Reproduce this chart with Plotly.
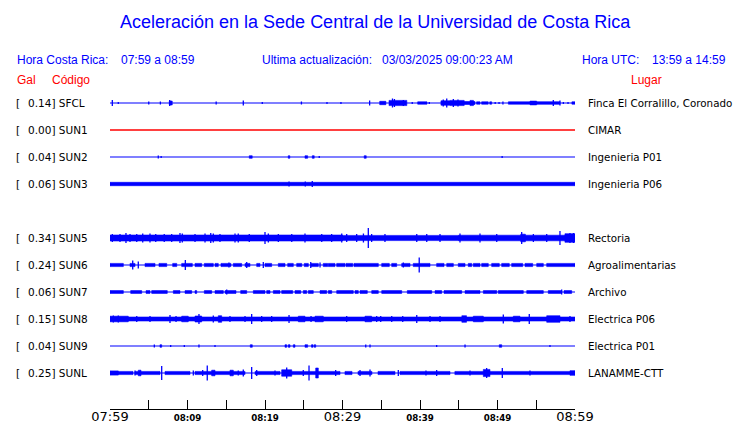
import plotly.graph_objects as go

# ---------------- data ----------------
STATIONS = ["SFCL", "SUN1", "SUN2", "SUN3", "SUN4", "SUN5", "SUN6", "SUN7", "SUN8", "SUN9", "SUNL"]
PEAK_GAL = [0.14, 0.00, 0.04, 0.06, None, 0.34, 0.24, 0.06, 0.15, 0.04, 0.25]
PLACES = ["Finca El Corralillo, Coronado", "CIMAR", "Ingenieria P01", "Ingenieria P06", None,
          "Rectoria", "Agroalimentarias", "Archivo", "Electrica P06", "Electrica P01", "LANAMME-CTT"]
HAS_SIGNAL = [True, False, True, True, None, True, True, True, True, True, True]

TICK_MINUTES = [0, 5, 10, 15, 20, 25, 30, 35, 40, 45, 50, 55, 60]
TICK_LABELS = ["07:59", "", "08:09", "", "08:19", "", "08:29", "", "08:39", "", "08:49", "", "08:59"]
MAJOR_LABELS = ["07:59", "08:29", "08:59"]

# Trace envelopes: (start min, end min, half-height) and spikes (min, half-height)
SFCL_BANDS = [(7.65, 8.03, 2.0), (34.8, 35.6, 1.7), (36.0, 38.3, 2.6), (39.7, 40.9, 1.2),
              (42.7, 43.9, 2.2), (43.9, 45.7, 2.6), (45.7, 47.1, 1.5), (46.45, 46.9, 2.6),
              (47.3, 47.75, 1.2), (47.95, 48.8, 1.2), (49.0, 49.25, 1.2),
              (51.4, 54.2, 1.2), (54.2, 55.05, 1.9), (55.05, 58.05, 1.3), (59.6, 60.0, 1.2)]
SFCL_SPIKES = [(0.3, 3), (1.07, 1), (5.0, 1.5), (6.5, 1.5), (7.7, 3), (13.7, 1.5), (17.2, 2.5),
               (19.65, 1), (24.7, 1.5), (28.0, 1), (29.8, 1), (33.5, 2.5), (36.45, 4.5), (36.7, 4),
               (37.85, 3), (39.0, 1), (41.2, 1), (43.0, 3.5), (43.45, 4.5), (44.3, 4), (44.9, 3.5),
               (49.7, 1), (50.2, 1), (50.7, 1.5), (57.2, 3), (58.06, 2.5), (58.5, 1), (59.1, 1)]

SUN1_BANDS = []
SUN1_SPIKES = []

SUN2_BANDS = [(17.97, 18.35, 1.3), (23.0, 23.2, 1.3), (25.16, 25.5, 1.3), (26.1, 26.35, 1.3),
              (32.8, 33.06, 1.3)]
SUN2_SPIKES = [(6.23, 1.5), (6.6, 1), (27.0, 1), (50.6, 1)]

SUN3_BANDS = [(0, 60, 1.7)]
SUN3_SPIKES = [(23.1, 2.5), (25.2, 2.5), (26.1, 3)]

SUN4_BANDS = []
SUN4_SPIKES = []

SUN5_BANDS = [(0, 30, 3.0), (30, 45, 2.6), (45, 58.7, 2.8), (58.7, 60, 4.3), (53.0, 53.6, 3.8)]
SUN5_SPIKES = [(0.3, 4), (1.29, 4), (2.06, 5), (2.58, 4), (3.45, 4), (4.22, 4.5), (5.16, 4.5),
               (5.9, 4), (7.0, 4), (7.96, 4), (9.03, 5), (9.33, 4.5), (10.97, 4), (12.26, 4.5),
               (13.0, 5), (13.33, 4.5), (14.19, 4), (16.13, 4.5), (16.55, 4.5), (17.97, 4),
               (20.0, 6), (20.43, 4.5), (21.72, 4), (23.45, 4), (25.16, 4.5), (27.32, 4), (28.6, 4),
               (29.9, 4.5), (30.54, 4), (31.83, 4), (32.7, 4.5), (33.33, 10), (33.76, 4), (35.48, 4),
               (39.58, 4), (40.87, 4), (42.58, 4), (45.16, 4.5), (47.74, 4.5), (49.9, 4), (53.12, 6),
               (54.63, 4), (56.35, 4), (58.06, 7), (59.35, 5), (59.8, 5)]

SUN6_BANDS = [(0, 1.72, 1.6), (2.58, 3.23, 1.6), (4.52, 5.81, 1.6), (6.32, 7.32, 1.6),
              (8.09, 8.61, 1.6), (9.25, 10.62, 1.6), (10.97, 11.83, 1.6), (12.17, 13.33, 1.6),
              (13.55, 13.97, 1.6), (14.32, 15.61, 1.6), (15.91, 16.99, 1.6), (17.42, 18.06, 1.6),
              (18.93, 19.35, 1.6), (20.0, 20.86, 1.6), (21.72, 22.58, 1.6), (22.93, 23.65, 1.6),
              (24.09, 24.74, 1.6), (25.07, 25.59, 1.6), (25.94, 26.88, 1.6), (27.52, 28.09, 1.6),
              (28.17, 29.03, 1.6), (29.25, 30.32, 1.6), (30.45, 31.32, 1.6), (31.48, 34.62, 1.6),
              (35.06, 36.04, 1.6), (36.35, 36.99, 1.6), (37.64, 38.71, 1.6), (39.13, 41.29, 1.6),
              (42.15, 43.1, 1.6), (43.45, 44.3, 1.6), (44.94, 45.81, 1.6), (46.23, 46.67, 1.6),
              (46.88, 47.74, 1.6), (47.96, 48.81, 1.6), (49.25, 50.23, 1.6), (50.54, 51.52, 1.6),
              (51.83, 53.25, 1.6), (53.55, 54.54, 1.6), (55.06, 55.91, 1.6), (56.35, 60.0, 1.6)]
SUN6_SPIKES = [(2.93, 4.5), (3.65, 3.5), (9.72, 5), (15.35, 2.5), (17.64, 3), (19.78, 3),
               (25.9, 3), (27.1, 2.5), (37.85, 2.5), (39.9, 7.5)]

SUN7_BANDS = [(0, 1.72, 1.4), (2.67, 4.09, 1.4), (4.65, 5.16, 1.4), (5.38, 7.39, 1.4),
              (8.17, 9.03, 1.4), (9.68, 10.54, 1.4), (10.97, 11.19, 1.4), (12.17, 13.12, 1.4),
              (13.55, 14.62, 1.4), (14.84, 16.26, 1.4), (16.86, 17.64, 1.4), (18.49, 20.0, 1.4),
              (20.22, 20.65, 1.4), (21.07, 21.94, 1.4), (22.15, 23.57, 1.4), (23.87, 24.61, 1.4),
              (24.94, 25.38, 1.4), (25.59, 26.23, 1.4), (27.1, 27.96, 1.4), (28.17, 28.61, 1.4),
              (29.25, 31.39, 1.4), (31.61, 32.04, 1.4), (32.26, 33.2, 1.4), (33.77, 34.62, 1.4),
              (35.06, 37.64, 1.4), (38.36, 41.51, 1.4), (41.94, 42.8, 1.4), (43.1, 45.38, 1.4),
              (45.81, 47.74, 1.4), (48.17, 49.9, 1.4), (50.1, 53.33, 1.4), (53.77, 55.91, 1.4),
              (56.55, 58.28, 1.4), (58.58, 59.57, 1.4)]
SUN7_SPIKES = [(15.06, 2.5), (58.28, 2.5)]

SUN8_BANDS = [(0, 60, 2.0), (0, 2.36, 2.8), (9.25, 10.1, 2.8), (10.97, 11.83, 3.0),
              (13.97, 14.41, 3.3), (24.3, 25.16, 2.8), (26.45, 27.52, 2.8), (32.9, 33.76, 2.8),
              (45.4, 46.0, 3.3), (46.88, 48.17, 2.8), (52.04, 52.9, 2.8), (56.35, 58.06, 3.3)]
SUN8_SPIKES = [(0.43, 3.5), (1.07, 3.5), (3.45, 3), (5.16, 3), (7.74, 4), (8.52, 3), (11.48, 5),
               (13.33, 3.5), (15.48, 3), (17.42, 3), (18.28, 5), (19.57, 3), (20.86, 3), (23.1, 4),
               (25.94, 3), (30.54, 3), (34.41, 3), (34.93, 3), (36.35, 3), (37.77, 3), (39.58, 4),
               (41.29, 3), (42.58, 3), (50.75, 4.5), (54.1, 5), (59.35, 3)]

SUN9_BANDS = [(6.45, 6.67, 1.3), (18.1, 18.36, 1.3), (22.58, 22.8, 1.3), (23.0, 23.23, 1.3),
              (23.65, 23.87, 1.3), (25.16, 25.5, 1.3), (26.0, 26.2, 1.3), (26.35, 26.54, 1.3),
              (50.23, 50.54, 1.3)]
SUN9_SPIKES = [(5.72, 1.5), (7.83, 1), (9.59, 1), (11.48, 1.5), (13.55, 1), (33.0, 1.5),
               (33.55, 1.5), (42.15, 1), (45.81, 1.5), (56.77, 1)]

SUNL_BANDS = [(0, 2.97, 1.6), (0, 1.07, 2.1), (3.23, 6.45, 1.6), (7.1, 10.32, 1.6),
              (10.97, 17.42, 1.6), (18.71, 21.94, 1.6), (22.32, 29.68, 1.6), (30.32, 31.23, 1.6),
              (32.0, 33.8, 1.6), (34.58, 36.77, 1.6), (37.42, 43.87, 1.6), (44.5, 60.0, 1.6),
              (3.65, 4.0, 2.8), (13.12, 13.55, 2.8), (15.48, 15.91, 2.8), (22.15, 23.45, 3.2),
              (26.54, 26.88, 5.0), (48.17, 49.03, 3.6), (59.35, 60.0, 2.3)]
SUNL_SPIKES = [(3.23, 2.5), (6.67, 7), (10.75, 2.5), (11.96, 3), (12.55, 7.5), (16.55, 2.5),
               (17.2, 3.5), (18.28, 6), (18.93, 3), (21.29, 2.5), (22.8, 5.5), (24.94, 3),
               (25.68, 7.5), (29.12, 3), (32.26, 3), (33.55, 3.5), (37.2, 3), (40.77, 2.5),
               (42.15, 3), (46.45, 2.5), (48.6, 5), (50.62, 5), (54.19, 2.5)]

BANDS = [SFCL_BANDS, SUN1_BANDS, SUN2_BANDS, SUN3_BANDS, SUN4_BANDS, SUN5_BANDS,
         SUN6_BANDS, SUN7_BANDS, SUN8_BANDS, SUN9_BANDS, SUNL_BANDS]
SPIKES = [SFCL_SPIKES, SUN1_SPIKES, SUN2_SPIKES, SUN3_SPIKES, SUN4_SPIKES, SUN5_SPIKES,
          SUN6_SPIKES, SUN7_SPIKES, SUN8_SPIKES, SUN9_SPIKES, SUNL_SPIKES]

# ---------------- layout constants ----------------
W, H = 740, 423
L, R, T, B = 110, 165, 0, 14
PW, PH = W - L - R, H - T - B
ROW0, ROW_STEP = 103, 27
BLUE, RED = "#0000FF", "#FF0000"
TXT_FONT = "Liberation Sans, Arial, sans-serif"
LBL_FONT = "DejaVu Sans, sans-serif"


def px_x(px):
    return (px - L) / PW


def px_y(py):
    return 1 - (py - T) / PH


fig = go.Figure()

for i, code in enumerate(STATIONS):
    if HAS_SIGNAL[i] is None:
        continue
    c = ROW0 + ROW_STEP * i
    color = BLUE if HAS_SIGNAL[i] else RED
    # baseline
    fig.add_trace(go.Scatter(x=[0, 60], y=[c, c], mode="lines",
                             line=dict(color=color, width=1.4 if not HAS_SIGNAL[i] else 1.2),
                             hoverinfo="skip", showlegend=False))
    # envelope blocks
    bx, by = [], []
    for t0, t1, a in BANDS[i]:
        bx += [t0, t1, t1, t0, t0, None]
        by += [c - a, c - a, c + a, c + a, c - a, None]
    if bx:
        fig.add_trace(go.Scatter(x=bx, y=by, mode="lines", fill="toself", fillcolor=color,
                                 line=dict(color=color, width=0.6),
                                 hoverinfo="skip", showlegend=False))
    # spikes
    sx, sy = [], []
    for t, a in SPIKES[i]:
        sx += [t, t, None]
        sy += [c - a, c + a, None]
    if sx:
        fig.add_trace(go.Scatter(x=sx, y=sy, mode="lines", line=dict(color=color, width=1.3),
                                 hoverinfo="skip", showlegend=False))

annotations = []


def txt(text, px, py, size, color, family, anchor="left"):
    annotations.append(dict(text=text, x=px_x(px), y=px_y(py), xref="paper", yref="paper",
                            xanchor=anchor, yanchor="middle", showarrow=False,
                            font=dict(size=size, color=color, family=family)))


txt("Aceleración en la Sede Central de la Universidad de Costa Rica", 375, 22, 18, BLUE, TXT_FONT, "center")
txt("Hora Costa Rica:", 15, 60, 12, BLUE, TXT_FONT)
txt("07:59 a 08:59", 119, 60, 12, BLUE, TXT_FONT)
txt("Ultima actualización:", 260, 60, 12, BLUE, TXT_FONT)
txt("03/03/2025 09:00:23 AM", 380, 60, 12, BLUE, TXT_FONT)
txt("Hora UTC:", 580, 60, 12, BLUE, TXT_FONT)
txt("13:59 a 14:59", 650, 60, 12, BLUE, TXT_FONT)
txt("Gal", 15, 80, 12, RED, TXT_FONT)
txt("Código", 50, 80, 12, RED, TXT_FONT)
txt("Lugar", 629, 80, 12, RED, TXT_FONT)

for i, code in enumerate(STATIONS):
    if PEAK_GAL[i] is None:
        continue
    c = ROW0 + ROW_STEP * i
    txt("[", 14, c, 10.5, "#000000", LBL_FONT)
    txt(f"{PEAK_GAL[i]:.2f}] {code}", 26, c, 10.5, "#000000", LBL_FONT)
    txt(PLACES[i], 586, c, 10.3, "#000000", LBL_FONT)

ticktext = []
for lab in TICK_LABELS:
    if lab == "":
        ticktext.append("")
    elif lab in MAJOR_LABELS:
        ticktext.append(lab)
    else:
        ticktext.append(f'<span style="font-size:8.7px;font-weight:bold">{lab}</span>')

fig.update_layout(
    width=W, height=H,
    margin=dict(l=L, r=R, t=T, b=B, pad=0),
    paper_bgcolor="white", plot_bgcolor="white",
    showlegend=False,
    annotations=annotations,
    xaxis=dict(range=[0, 60], tickmode="array", tickvals=TICK_MINUTES, ticktext=ticktext,
               ticks="inside", ticklen=9, tickwidth=1, tickcolor="black",
               showline=True, linecolor="black", linewidth=1,
               showgrid=False, zeroline=False, automargin=False, ticklabelstandoff=-5,
               tickfont=dict(size=13, color="#000000", family=LBL_FONT)),
    yaxis=dict(range=[PH + T, T], visible=False, showgrid=False, zeroline=False,
               automargin=False),
)

fig.write_html("out.html", config={"displayModeBar": False},
               post_script="document.body.style.margin='0';document.body.style.overflow='hidden';")
